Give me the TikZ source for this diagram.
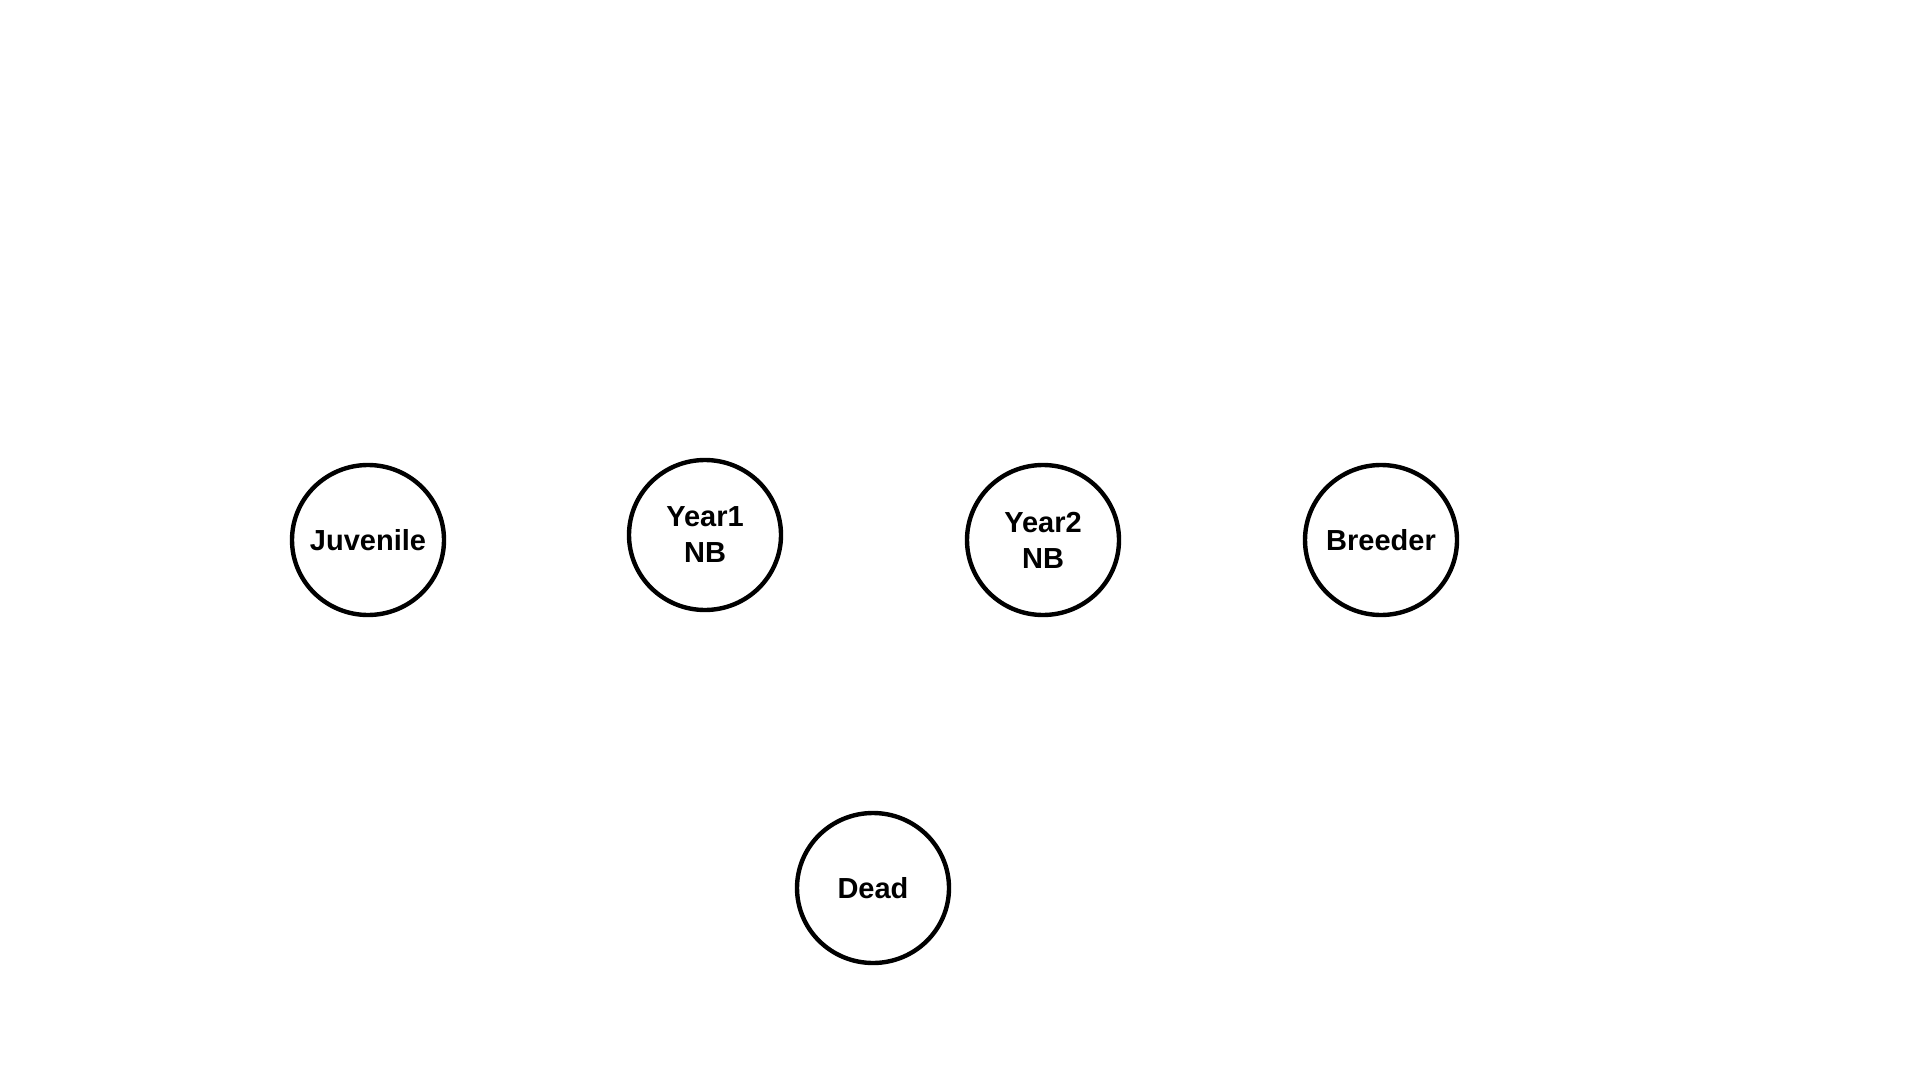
\documentclass[tikz,border=0pt]{standalone}
\usepackage{fontspec}
\setmainfont{Liberation Sans}
\usetikzlibrary{shapes.geometric}
\begin{document}
\begin{tikzpicture}[x=0.5pt,y=-0.5pt,
  state/.style={ellipse,draw=black,line width=2.2pt,minimum width=76pt,minimum height=75pt,inner xsep=-8pt,inner ysep=0pt,
    font=\fontsize{14.5pt}{18pt}\selectfont\bfseries,align=center,text=black}]
\useasboundingbox (0,0) rectangle (1920,1080);
\node[state] (juv) at (368,540) {Juvenile};
\node[state] (y1) at (705,535) {Year1\\NB};
\node[state] (y2) at (1043,540) {Year2\\NB};
\node[state] (br) at (1381,540) {Breeder};
\node[state] (dead) at (873,888) {Dead};
\end{tikzpicture}
\end{document}
